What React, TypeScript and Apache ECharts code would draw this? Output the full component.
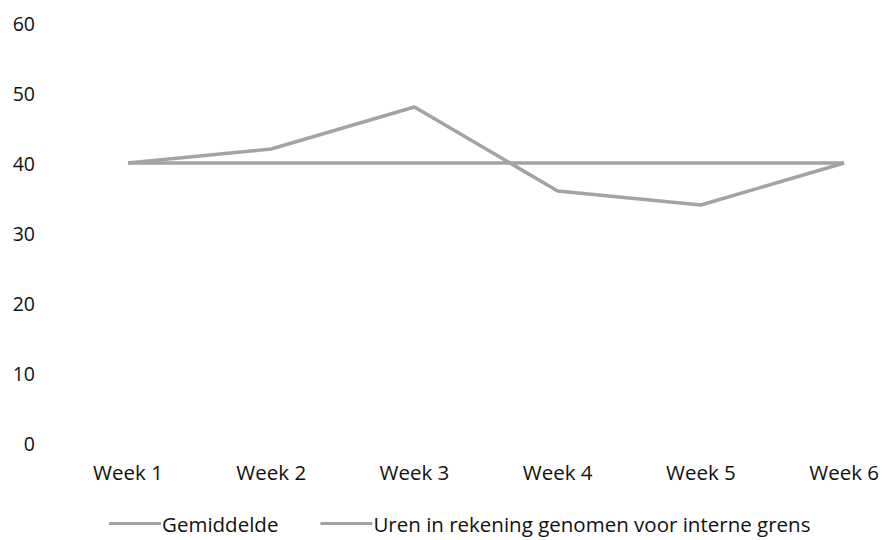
import React, { useEffect, useRef } from "react";
import * as echarts from "echarts";

const categories = ["Week 1", "Week 2", "Week 3", "Week 4", "Week 5", "Week 6"];
const gemiddelde = [40, 40, 40, 40, 40, 40];
const uren = [40, 42, 48, 36, 34, 40];
const yTicks = { min: 0, max: 60, interval: 10 };

export default function App() {
  const ref = useRef<HTMLDivElement>(null);
  useEffect(() => {
    if (!ref.current) return;
    const chart = echarts.init(ref.current, undefined, { renderer: "svg" });
    const font = "'Open Sans', 'Noto Sans', sans-serif";
    chart.setOption({
      animation: false,
      backgroundColor: "#ffffff",
      grid: { left: 128, right: 35, top: 23, bottom: 97, containLabel: false },
      xAxis: {
        type: "category",
        data: categories,
        boundaryGap: false,
        axisLine: { show: false },
        axisTick: { show: false },
        axisLabel: { color: "#111", fontSize: 20.5, fontFamily: font, margin: 18 },
      },
      yAxis: {
        type: "value",
        min: yTicks.min,
        max: yTicks.max,
        interval: yTicks.interval,
        splitLine: { show: false },
        axisLine: { show: false },
        axisTick: { show: false },
        axisLabel: { color: "#111", fontSize: 19.5, fontFamily: font, margin: 93, align: "right" },
      },
      legend: {
        bottom: 1,
        left: 104,
        itemGap: 42,
        itemWidth: 52,
        itemHeight: 3,
        icon: "rect",
        textStyle: { color: "#111", fontSize: 20.5, fontFamily: font, padding: [0, 0, 0, -4] },
        data: ["Gemiddelde", "Uren in rekening genomen voor interne grens"],
      },
      series: [
        {
          name: "Gemiddelde",
          type: "line",
          data: gemiddelde,
          symbol: "none",
          lineStyle: { color: "#a3a3a3", width: 3.5 },
          itemStyle: { color: "#a3a3a3" },
        },
        {
          name: "Uren in rekening genomen voor interne grens",
          type: "line",
          data: uren,
          symbol: "none",
          lineStyle: { color: "#a3a3a3", width: 3.5 },
          itemStyle: { color: "#a3a3a3" },
        },
      ],
    });
    return () => chart.dispose();
  }, []);
  return <div ref={ref} style={{ width: 882, height: 540, position: "absolute", left: 0, top: 0 }} />;
}
